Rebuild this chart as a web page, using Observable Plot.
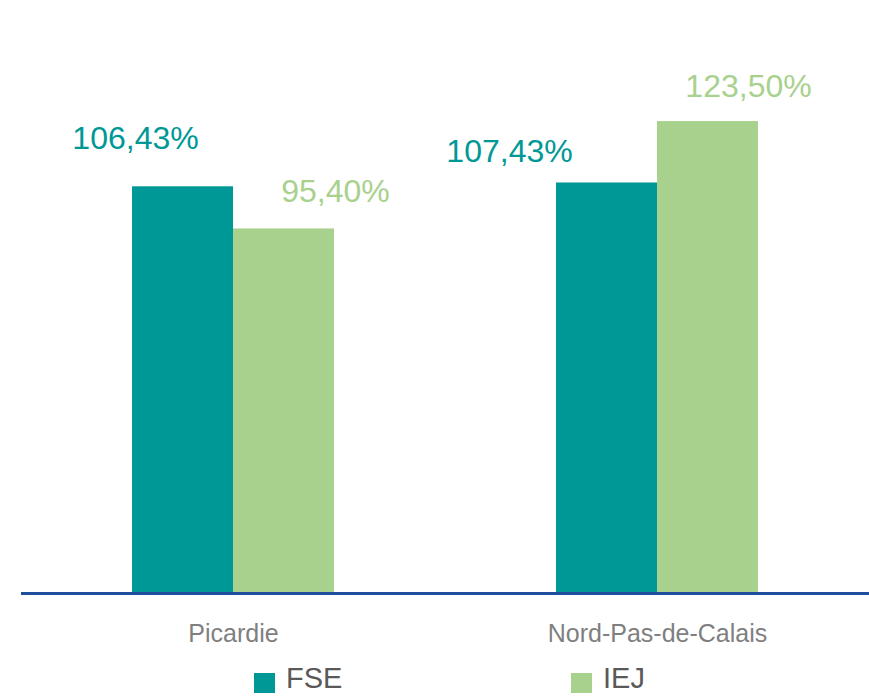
<!DOCTYPE html>
<html>
<head>
<meta charset="utf-8">
<script src="https://cdn.jsdelivr.net/npm/d3@7"></script>
<script src="https://cdn.jsdelivr.net/npm/@observablehq/plot@0.6"></script>
<style>
  html, body { margin: 0; padding: 0; background: #fff; }
  #wrap { position: relative; width: 869px; height: 697px; overflow: hidden; font-family: "Liberation Sans", Arial, sans-serif; }
  .leg { position: absolute; top: 664px; display: flex; align-items: center; color: #595959; font-size: 29px; line-height: 1; }
  .leg span.sw { display: inline-block; width: 21px; height: 20px; margin-right: 11px; margin-top: 9px; }
</style>
</head>
<body>
<div id="wrap"></div>
<script>
// ---- data ----
const regions = ["Picardie", "Nord-Pas-de-Calais"];
const seriesNames = ["FSE", "IEJ"];
const fseValues = [106.43, 107.43];
const iejValues = [95.40, 123.50];
const fseLabels = ["106,43%", "107,43%"];
const iejLabels = ["95,40%", "123,50%"];

const colors = { FSE: "#009896", IEJ: "#A9D18E" };

const rows = [];
regions.forEach((r, i) => {
  rows.push({ region: r, series: "FSE", value: fseValues[i], label: fseLabels[i] });
  rows.push({ region: r, series: "IEJ", value: iejValues[i], label: iejLabels[i] });
});

// label placement nudges (layout only), per region & series
const nudge = {
  "Picardie|FSE": { dx: -98, dy: -38 },
  "Picardie|IEJ": { dx: 102, dy: -27 },
  "Nord-Pas-de-Calais|FSE": { dx: -148, dy: -21 },
  "Nord-Pas-de-Calais|IEJ": { dx: 91, dy: -25 }
};

const labelMarks = rows.map(d => {
  const n = nudge[d.region + "|" + d.series];
  return Plot.text([d], {
    x: "region", y: "value", text: "label",
    dx: n.dx, dy: n.dy, lineAnchor: "bottom",
    fill: colors[d.series], fontSize: 32
  });
});

const chart = Plot.plot({
  width: 869,
  height: 660,
  marginLeft: 21,
  marginRight: 0,
  marginTop: 58,
  marginBottom: 67,
  style: { fontFamily: "Liberation Sans, Arial, sans-serif", background: "#fff" },
  x: {
    domain: regions,
    paddingInner: 0.5236,
    paddingOuter: 0.2618,
    tickSize: 0,
    tickPadding: 31,
    label: null,
    fontSize: 25
  },
  y: { domain: [0, 140], axis: null },
  marks: [
    Plot.barY(rows.filter(d => d.series === "FSE"), { x: "region", y: "value", fill: colors.FSE, insetRight: 101 }),
    Plot.barY(rows.filter(d => d.series === "IEJ"), { x: "region", y: "value", fill: colors.IEJ, insetLeft: 101 }),
    Plot.ruleY([0], { stroke: "#1F4E9E", strokeWidth: 3 }),
    Plot.axisX({ tickSize: 0, tickPadding: 31, fontSize: 25, fill: "#7F7F7F", label: null }),
    ...labelMarks
  ]
});

const wrap = document.getElementById("wrap");
wrap.appendChild(chart);

// legend below the chart
const legendPos = { FSE: 254, IEJ: 571 };
seriesNames.forEach(s => {
  const item = document.createElement("div");
  item.className = "leg";
  item.style.left = legendPos[s] + "px";
  const sw = document.createElement("span");
  sw.className = "sw";
  sw.style.background = colors[s];
  item.appendChild(sw);
  const t = document.createElement("span");
  t.textContent = s;
  item.appendChild(t);
  wrap.appendChild(item);
});
</script>
</body>
</html>
